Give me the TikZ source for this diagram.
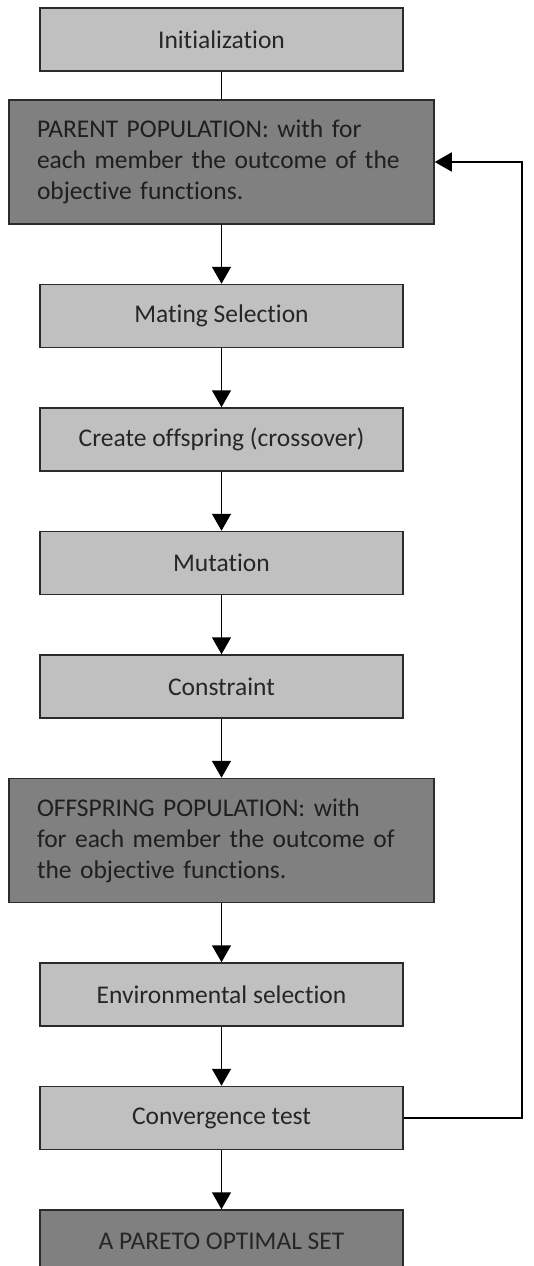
\documentclass[tikz,border=0pt]{standalone}
\usepackage{fontspec}
\setmainfont{Carlito}[Ligatures=CommonOff]
\usetikzlibrary{arrows.meta, positioning, calc}

\definecolor{lightbox}{HTML}{C0C0C0}
\definecolor{darkbox}{HTML}{808080}
\definecolor{edgegray}{HTML}{2B2B2B}

\begin{document}
\begin{tikzpicture}[x=1pt,y=1pt,
  font=\fontsize{25.5}{31}\selectfont,
  stepbox/.style={draw=edgegray,line width=1.5pt,fill=lightbox,text=black!85,
    minimum width=363pt,minimum height=63pt,inner sep=0pt},
  popbox/.style={draw=edgegray,line width=1.5pt,fill=darkbox,text=black!88,
    minimum width=425pt,minimum height=124pt,text width=369pt,align=left,inner sep=0pt},
  flow/.style={-{Triangle[width=19pt,length=17pt]},line width=1.5pt},
  node distance=59pt]
  \useasboundingbox (0,0) rectangle (534,-1266);

  % boxes, top to bottom
  \node[stepbox] (init) at (221.5,-39.5) {Initialization};
  \node[popbox,below=27.5pt of init] (parent) {PARENT POPULATION: with for\\each member the outcome of the\\objective functions.};
  \node[stepbox,below=of parent] (mating) {Mating Selection};
  \node[stepbox,below=of mating] (cross) {Create offspring (crossover)};
  \node[stepbox,below=of cross] (mutation) {Mutation};
  \node[stepbox,below=of mutation] (constraint) {Constraint};
  \node[popbox,below=of constraint] (offspring) {OFFSPRING POPULATION: with\\for each member the outcome of\\the objective functions.};
  \node[stepbox,below=of offspring] (envsel) {Environmental selection};
  \node[stepbox,below=of envsel] (conv) {Convergence test};
  \node[stepbox,fill=darkbox,below=of conv] (pareto) {A PARETO OPTIMAL SET};

  \coordinate (loop) at (522,0);

  % connectors
  \draw[line width=1.5pt] (init) -- (parent);
  \foreach \a/\b in {parent/mating, mating/cross, cross/mutation, mutation/constraint,
    constraint/offspring, offspring/envsel, envsel/conv, conv/pareto}
    \draw[flow] (\a) -- (\b);
  \draw[flow] (conv.east) -- (conv.east -| loop) |- (parent.east);
\end{tikzpicture}
\end{document}
